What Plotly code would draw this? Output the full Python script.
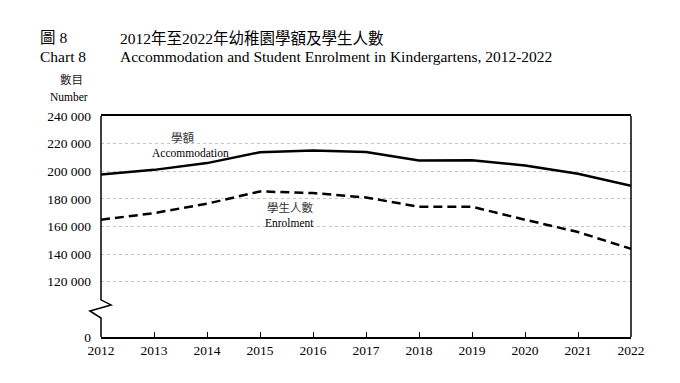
import plotly.graph_objects as go

years = [2012, 2013, 2014, 2015, 2016, 2017, 2018, 2019, 2020, 2021, 2022]
accommodation = [197600, 201000, 205900, 213800, 215000, 214000, 207800, 208000, 204200, 198200, 189500]
enrolment = [164900, 169700, 176500, 185400, 184200, 181000, 174300, 174300, 164900, 156000, 143800]

# broken axis: the "0" tick is drawn at the 80 000 position
y_tickvals = [80000, 120000, 140000, 160000, 180000, 200000, 220000, 240000]
y_ticktext = ["0", "120 000", "140 000", "160 000", "180 000", "200 000", "220 000", "240 000"]

SERIF = "Liberation Serif, Times New Roman, Noto Sans CJK TC, serif"

fig = go.Figure()
fig.add_trace(go.Scatter(x=years, y=accommodation, mode="lines", name="學額 Accommodation",
                         line=dict(color="black", width=2.5)))
fig.add_trace(go.Scatter(x=years, y=enrolment, mode="lines", name="學生人數 Enrolment",
                         line=dict(color="black", width=2.5, dash="9px,5px")))

fig.update_layout(
    width=680, height=383,
    margin=dict(l=101, r=49, t=116, b=46),
    paper_bgcolor="white", plot_bgcolor="white",
    showlegend=False,
    font=dict(family=SERIF, color="black", size=12),
    xaxis=dict(range=[2012, 2022], tickvals=years, ticks="inside", ticklen=5,
               tickcolor="black", showline=True, linecolor="black", linewidth=1.5,
               mirror=True, showgrid=False, zeroline=False,
               tickfont=dict(size=13.5, family=SERIF)),
    yaxis=dict(range=[80000, 240000], tickvals=y_tickvals, ticktext=y_ticktext,
               showline=False, zeroline=False, showgrid=True, gridcolor="#c4c4c4",
               griddash="dot", gridwidth=1, ticks="", ticklabelstandoff=9,
               tickfont=dict(size=13.5, family=SERIF)),
)

# left axis line with break zigzag, right border
fig.add_shape(type="path", xref="x domain", yref="y domain",
              path="M 0,1 L 0,0.168 L 0.019,0.145 L -0.021,0.118 L 0,0.086 L 0,0",
              line=dict(color="black", width=1.5))
fig.add_shape(type="line", xref="x domain", yref="y domain", x0=1, x1=1, y0=0, y1=1,
              line=dict(color="black", width=1.5))

# titles
fig.add_annotation(text="圖 8", xref="paper", yref="paper", x=-0.118, y=1.353,
                   xanchor="left", yanchor="middle", showarrow=False, font=dict(size=15.5))
fig.add_annotation(text="Chart 8", xref="paper", yref="paper", x=-0.118, y=1.271,
                   xanchor="left", yanchor="middle", showarrow=False, font=dict(size=15.5))
fig.add_annotation(text="2012年至2022年幼稚園學額及學生人數", xref="paper", yref="paper", x=0.032, y=1.353,
                   xanchor="left", yanchor="middle", showarrow=False, font=dict(size=15.5))
fig.add_annotation(text="Accommodation and Student Enrolment in Kindergartens, 2012-2022",
                   xref="paper", yref="paper", x=0.032, y=1.271,
                   xanchor="left", yanchor="middle", showarrow=False, font=dict(size=15.5))
fig.add_annotation(text="數目", xref="paper", yref="paper", x=-0.03, y=1.163,
                   xanchor="right", yanchor="middle", showarrow=False, font=dict(size=11.5, color="#222"))
fig.add_annotation(text="Number", xref="paper", yref="paper", x=-0.02, y=1.086,
                   xanchor="right", yanchor="middle", showarrow=False, font=dict(size=11.5))

# series labels
fig.add_annotation(text="學額", x=2013.55, y=223800, showarrow=False, font=dict(size=11.5, color="#333"))
fig.add_annotation(text="Accommodation", x=2013.68, y=213400, showarrow=False, font=dict(size=11.5))
fig.add_annotation(text="學生人數", x=2015.57, y=173700, showarrow=False, font=dict(size=11.5, color="#333"))
fig.add_annotation(text="Enrolment", x=2015.55, y=162800, showarrow=False, font=dict(size=11.5))

fig.write_html("out.html", config={"displayModeBar": False},
               post_script="document.body.style.margin='0';")
